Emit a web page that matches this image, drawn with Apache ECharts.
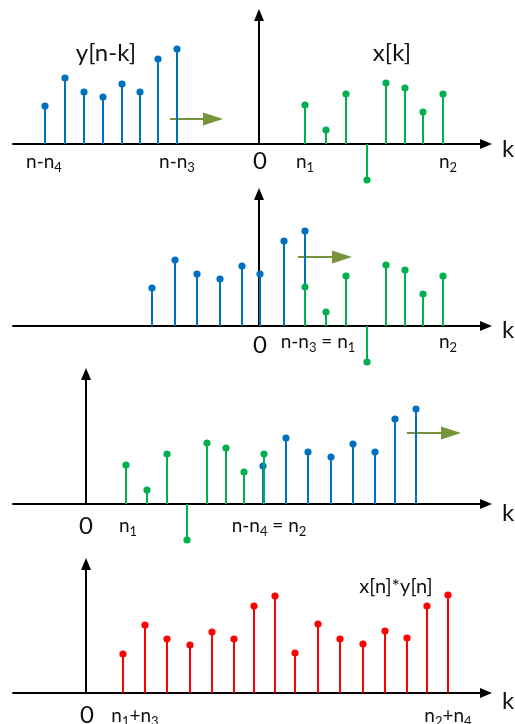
<!DOCTYPE html>
<html>
<head>
<meta charset="utf-8">
<script src="https://cdn.jsdelivr.net/npm/echarts@6/dist/echarts.min.js"></script>
<style>
html,body{margin:0;padding:0;background:#fff;}
#c{width:515px;height:724px;}
</style>
</head>
<body>
<div id="c"></div>
<script>
// ---- data (k positions in units of 1/10 of panel-width scale, amplitudes) ----
const ySignal = [3.8, 6.6, 5.2, 4.7, 6.0, 5.2, 8.5, 9.5];      // y[n-k] amplitudes
const xSignal = [3.9, 1.4, 5.0, -3.6, 6.1, 5.6, 3.2, 5.0];     // x[k] amplitudes
const convSignal = [3.9, 6.8, 5.4, 4.8, 6.1, 5.4, 8.7, 9.7, 4.0, 6.9, 5.4, 4.9, 6.2, 5.5, 8.7, 9.8];

const p1BlueK  = [-21.4, -19.4, -17.5, -15.6, -13.7, -11.9, -10.1, -8.2];
const p12GreenK = [4.6, 6.7, 8.7, 10.8, 12.7, 14.6, 16.4, 18.4];
const p2BlueK  = [-10.7, -8.4, -6.2, -3.9, -1.7, 0.1, 2.5, 4.6];
const p3GreenK = [4.0, 6.1, 8.1, 10.1, 12.1, 14.0, 15.8, 17.8];
const p3BlueK  = [17.7, 20.0, 22.2, 24.5, 26.7, 28.9, 30.9, 33.0];
const p4RedK   = [3.7, 5.9, 8.1, 10.4, 12.6, 14.8, 16.8, 18.9, 20.9, 23.2, 25.4, 27.7, 29.9, 32.1, 34.1, 36.2];

const BLUE = '#0070c0', GREEN = '#00b050', RED = '#ff0000', OLIVE = '#77933c';

function zip(ks, vs) { return ks.map((k, i) => [k, vs[i]]); }

const chart = echarts.init(document.getElementById('c'), null, {renderer: 'canvas'});

const grids = [
  {left: 13, width: 473, top: 15, height: 129},
  {left: 13, width: 473, top: 194, height: 132},
  {left: 13, width: 473, top: 374, height: 130},
  {left: 13, width: 473, top: 564, height: 129}
];
const xRanges = [[-24.6, 22.7], [-24.6, 22.7], [-7.3, 40.0], [-7.3, 40.0]];

const axisLine = {
  show: true, onZero: true,
  symbol: ['none', 'triangle'], symbolSize: [10, 12],
  lineStyle: {color: '#000', width: 2}
};

const xAxes = xRanges.map((r, i) => ({
  type: 'value', gridIndex: i, min: r[0], max: r[1],
  axisLine: axisLine, axisTick: {show: false}, axisLabel: {show: false}, splitLine: {show: false}
}));
const yAxes = grids.map((g, i) => ({
  type: 'value', gridIndex: i, min: 0, max: g.height / 10,
  axisLine: axisLine, axisTick: {show: false}, axisLabel: {show: false}, splitLine: {show: false}
}));

function stem(idx, data, color) {
  return {
    type: 'custom', xAxisIndex: idx, yAxisIndex: idx, clip: false, data: data,
    renderItem: function (params, api) {
      const k = api.value(0), v = api.value(1);
      const p0 = api.coord([k, 0]), p1 = api.coord([k, v]);
      return {
        type: 'group',
        children: [
          {type: 'line', shape: {x1: p0[0], y1: p0[1], x2: p1[0], y2: p1[1]}, style: {stroke: color, lineWidth: 2}},
          {type: 'circle', shape: {cx: p1[0], cy: p1[1], r: 3.6}, style: {fill: color}}
        ]
      };
    }
  };
}

const FONT = 'Lato, "Open Sans", sans-serif';
const rich = {
  m: {fontSize: 19, fontFamily: FONT, lineHeight: 24, fill: '#111'},
  s: {fontSize: 13, fontFamily: FONT, verticalAlign: 'bottom', fill: '#111'}
};
function txt(x, y, text, size) {
  return {
    type: 'text', x: x, y: y, z: 10,
    style: size ? {text: text, fontSize: size, fontFamily: FONT, fill: '#111', align: 'center', verticalAlign: 'middle'}
                : {text: text, rich: rich, align: 'center', verticalAlign: 'middle'}
  };
}
function arrow(x1, x2, y) {
  return {
    type: 'group', z: 10,
    children: [
      {type: 'line', shape: {x1: x1, y1: y, x2: x2 - 18, y2: y}, style: {stroke: OLIVE, lineWidth: 2}},
      {type: 'polygon', shape: {points: [[x2 - 20, y - 6.5], [x2, y], [x2 - 20, y + 6.5]]}, style: {fill: OLIVE}}
    ]
  };
}

const graphics = [
  // panel 1
  txt(106, 53, 'y[n-k]', 24),
  txt(392, 53, 'x[k]', 24),
  txt(44, 162, '{m|n-n}{s|4}'),
  txt(177, 162, '{m|n-n}{s|3}'),
  txt(260, 161, '0', 24),
  txt(305, 162, '{m|n}{s|1}'),
  txt(448, 162, '{m|n}{s|2}'),
  txt(508, 149, 'k', 24),
  arrow(170, 223, 119),
  // panel 2
  txt(260, 345, '0', 24),
  txt(318, 342, '{m|n-n}{s|3}{m| = n}{s|1}'),
  txt(448, 342, '{m|n}{s|2}'),
  txt(508, 330, 'k', 24),
  arrow(298, 352, 257),
  // panel 3
  txt(86, 526, '0', 24),
  txt(128, 526, '{m|n}{s|1}'),
  txt(269, 526, '{m|n-n}{s|4}{m| = n}{s|2}'),
  txt(508, 513, 'k', 24),
  arrow(407, 461, 433),
  // panel 4
  txt(87, 715, '0', 24),
  txt(135, 716, '{m|n}{s|1}{m|+n}{s|3}'),
  txt(448, 716, '{m|n}{s|2}{m|+n}{s|4}'),
  txt(508, 701, 'k', 24),
  txt(396, 587, 'x[n]*y[n]', 20)
];

chart.setOption({
  animation: false,
  backgroundColor: '#fff',
  grid: grids,
  xAxis: xAxes,
  yAxis: yAxes,
  series: [
    stem(0, zip(p1BlueK, ySignal), BLUE),
    stem(0, zip(p12GreenK, xSignal), GREEN),
    stem(1, zip(p2BlueK, ySignal), BLUE),
    stem(1, zip(p12GreenK, xSignal), GREEN),
    stem(2, zip(p3BlueK, ySignal), BLUE),
    stem(2, zip(p3GreenK, xSignal), GREEN),
    stem(3, zip(p4RedK, convSignal), RED)
  ],
  graphic: graphics
});
</script>
</body>
</html>
